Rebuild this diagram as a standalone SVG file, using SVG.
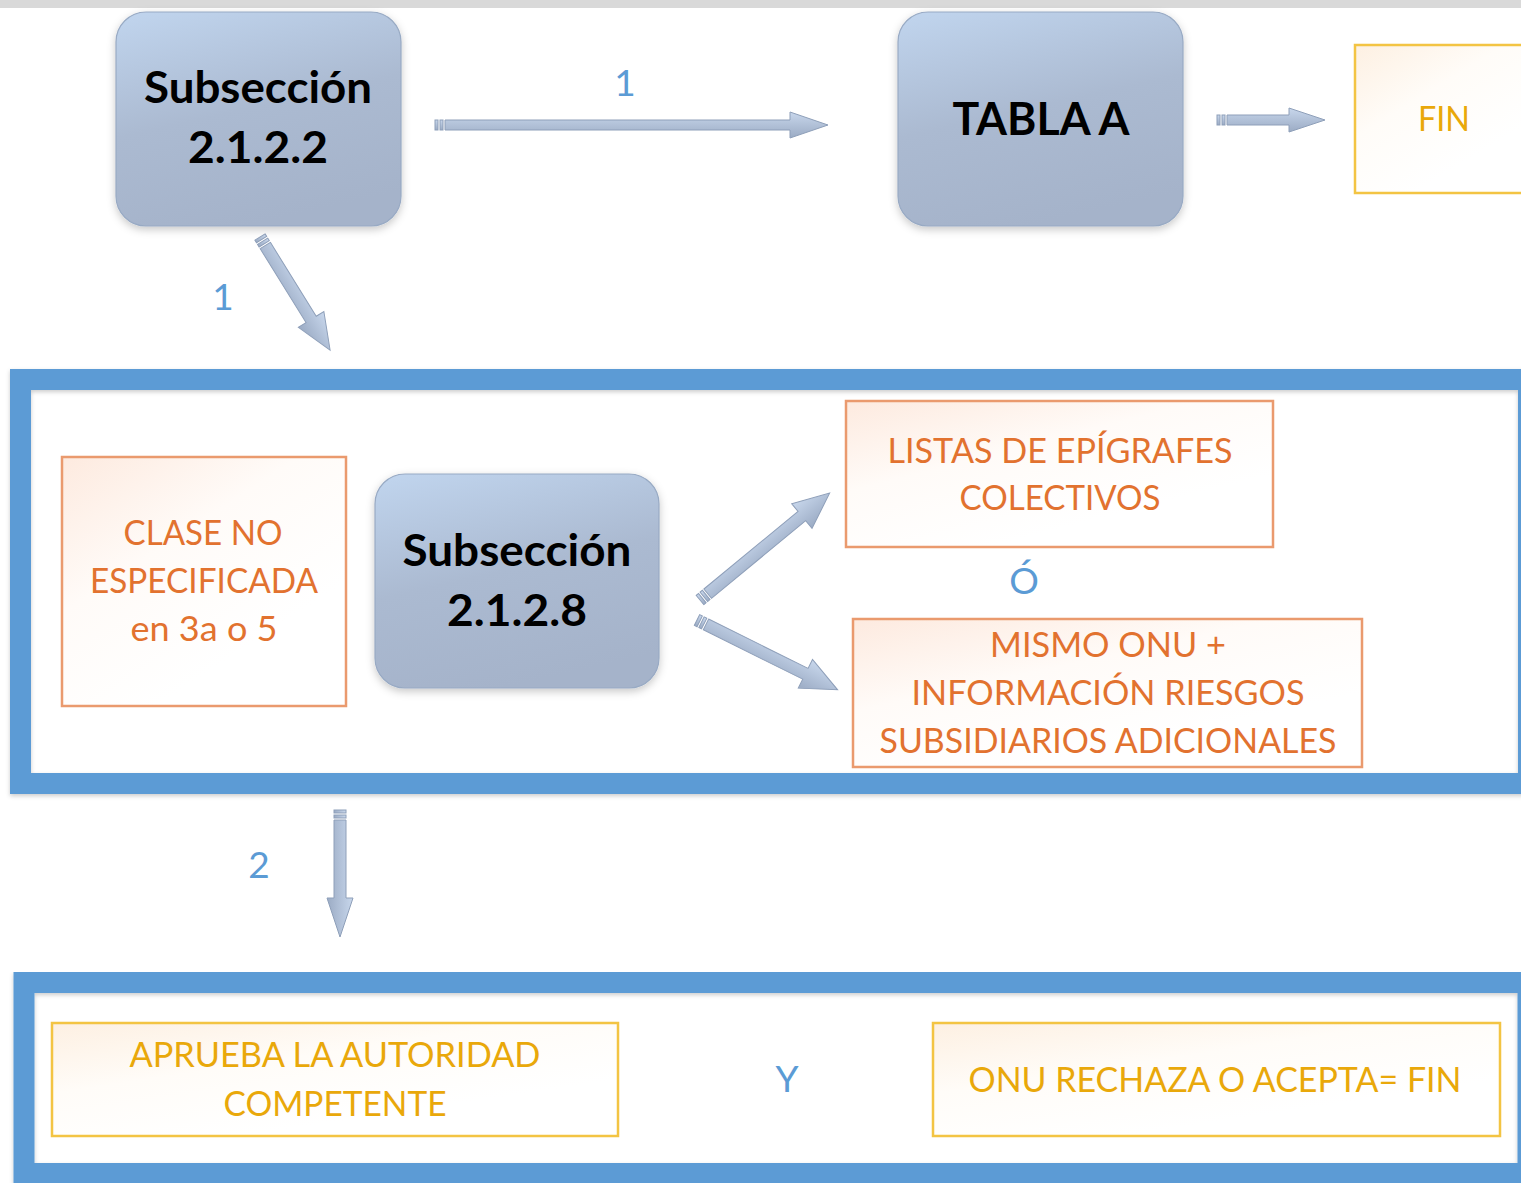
<svg xmlns="http://www.w3.org/2000/svg" width="1521" height="1183" viewBox="0 0 1521 1183">
<style>
.node{fill:url(#gNode);stroke:#98aac4;stroke-width:1.2;filter:url(#sh)}
.nt{font-family:Lato,"Open Sans","Liberation Sans",sans-serif;font-weight:bold;fill:#000;text-anchor:middle}
.obox{fill:url(#gOr);stroke:#ea9a6e;stroke-width:2.5}
.ot{font-family:Lato,"Open Sans","Liberation Sans",sans-serif;font-size:35px;fill:#e2722f;text-anchor:middle}
.ybox{fill:url(#gYe);stroke:#f3c443;stroke-width:2.5}
.yt{font-family:Lato,"Open Sans","Liberation Sans",sans-serif;font-size:35px;fill:#e9a80a;text-anchor:middle}
.lbl{font-family:Lato,"Open Sans","Liberation Sans",sans-serif;font-size:37px;fill:#5b9bd5;text-anchor:middle}
.frame{fill:none;stroke:#5b9bd5;stroke-width:21;filter:url(#shf)}
.arr{fill:url(#gArr);stroke:#8e9fb9;stroke-width:1}
</style>
<defs>
<linearGradient id="gNode" x1="0.15" y1="0" x2="0.45" y2="1">
<stop offset="0" stop-color="#bfd3ec"/><stop offset="0.5" stop-color="#abbad1"/><stop offset="1" stop-color="#a5b3ca"/>
</linearGradient>
<linearGradient id="gOr" x1="0" y1="0" x2="0.6" y2="0.8">
<stop offset="0" stop-color="#fdeadf"/><stop offset="0.5" stop-color="#fffbf8"/><stop offset="1" stop-color="#ffffff"/>
</linearGradient>
<linearGradient id="gYe" x1="0" y1="0" x2="0.6" y2="0.8">
<stop offset="0" stop-color="#fdf0e2"/><stop offset="0.5" stop-color="#fffcf8"/><stop offset="1" stop-color="#ffffff"/>
</linearGradient>
<linearGradient id="gArr" x1="0" y1="0" x2="0" y2="1">
<stop offset="0" stop-color="#c8d7ec"/><stop offset="1" stop-color="#9babc4"/>
</linearGradient>
<filter id="sh" x="-10%" y="-10%" width="120%" height="125%">
<feDropShadow dx="0" dy="3" stdDeviation="4" flood-color="#000" flood-opacity="0.22"/>
</filter>
<filter id="shf" x="-5%" y="-5%" width="110%" height="115%">
<feDropShadow dx="0" dy="2" stdDeviation="2" flood-color="#000" flood-opacity="0.2"/>
</filter>
</defs>
<rect x="0" y="0" width="1521" height="1183" fill="#ffffff"/>
<rect x="0" y="0" width="1521" height="8" fill="#d9d9d9"/>

<g id="container1"><rect class="frame" x="20.5" y="379.5" width="1508" height="404"/></g>
<g id="container2"><rect class="frame" x="24" y="982.5" width="1504" height="191"/></g>

<g id="connectors">
<g transform="translate(435,125)">
<rect class="arr" x="0" y="-5" width="3" height="10"/><rect class="arr" x="5" y="-5" width="3" height="10"/>
<path class="arr" d="M10,-5 H355 V-13 L393,0 L355,13 V5 H10 Z"/>
</g>
<g transform="translate(1217,120)">
<rect class="arr" x="0" y="-5" width="3" height="10"/><rect class="arr" x="5" y="-5" width="3" height="10"/>
<path class="arr" d="M10,-5 H72 V-12 L108,0 L72,12 V5 H10 Z"/>
</g>
<g transform="translate(260,237) rotate(58.2)">
<rect class="arr" x="0" y="-6" width="3" height="12"/><rect class="arr" x="5" y="-6" width="3" height="12"/>
<path class="arr" d="M10,-6 H97 V-15 L133,0 L97,15 V6 H10 Z"/>
</g>
<g transform="translate(700,600) rotate(-39.5)">
<rect class="arr" x="0" y="-6" width="3" height="12"/><rect class="arr" x="5" y="-6" width="3" height="12"/>
<path class="arr" d="M10,-6 H132 V-16 L168,0 L132,16 V6 H10 Z"/>
</g>
<g transform="translate(697,620) rotate(26.4)">
<rect class="arr" x="0" y="-6" width="3" height="12"/><rect class="arr" x="5" y="-6" width="3" height="12"/>
<path class="arr" d="M10,-6 H121 V-16 L157,0 L121,16 V6 H10 Z"/>
</g>
<g transform="translate(340,810) rotate(90)">
<rect class="arr" x="0" y="-6" width="3" height="12"/><rect class="arr" x="5" y="-6" width="3" height="12"/>
<path class="arr" d="M10,-6 H88 V-13 L127,0 L88,13 V6 H10 Z"/>
</g>
<text class="lbl" x="625" y="96">1</text>
<text class="lbl" x="223" y="310">1</text>
<text class="lbl" x="259" y="878">2</text>
</g>

<g id="sub2122">
<rect class="node" x="116" y="12" width="285" height="214" rx="30"/>
<text class="nt" x="258" y="103" font-size="43" textLength="228" lengthAdjust="spacingAndGlyphs">Subsección</text>
<text class="nt" x="258" y="163" font-size="43" textLength="140" lengthAdjust="spacingAndGlyphs">2.1.2.2</text>
</g>

<g id="tablaA">
<rect class="node" x="898" y="12" width="285" height="214" rx="30"/>
<text class="nt" x="1041" y="135" font-size="46" textLength="177" lengthAdjust="spacingAndGlyphs">TABLA A</text>
</g>

<g id="fin">
<rect class="ybox" x="1355" y="45" width="180" height="148"/>
<text class="yt" x="1444" y="131" textLength="52" lengthAdjust="spacingAndGlyphs">FIN</text>
</g>

<g id="clase">
<rect class="obox" x="62" y="457" width="284" height="249"/>
<text class="ot" x="203" y="545" textLength="159" lengthAdjust="spacingAndGlyphs">CLASE NO</text>
<text class="ot" x="204" y="593" textLength="228" lengthAdjust="spacingAndGlyphs">ESPECIFICADA</text>
<text class="ot" x="204" y="641" textLength="147" lengthAdjust="spacingAndGlyphs">en 3a o 5</text>
</g>

<g id="sub2128">
<rect class="node" x="375" y="474" width="284" height="214" rx="30"/>
<text class="nt" x="517" y="566" font-size="43" textLength="229" lengthAdjust="spacingAndGlyphs">Subsección</text>
<text class="nt" x="517" y="626" font-size="43" textLength="140" lengthAdjust="spacingAndGlyphs">2.1.2.8</text>
</g>

<g id="listas">
<rect class="obox" x="846" y="401" width="427" height="146"/>
<text class="ot" x="1060" y="463" textLength="345" lengthAdjust="spacingAndGlyphs">LISTAS DE EPÍGRAFES</text>
<text class="ot" x="1060" y="510" textLength="201" lengthAdjust="spacingAndGlyphs">COLECTIVOS</text>
</g>

<g id="o-label"><text class="lbl" x="1024" y="594" font-size="35">Ó</text></g>

<g id="mismo">
<rect class="obox" x="853" y="619" width="509" height="148"/>
<text class="ot" x="1108" y="657" textLength="236" lengthAdjust="spacingAndGlyphs">MISMO ONU +</text>
<text class="ot" x="1108" y="705" textLength="393" lengthAdjust="spacingAndGlyphs">INFORMACIÓN RIESGOS</text>
<text class="ot" x="1108" y="753" textLength="457" lengthAdjust="spacingAndGlyphs">SUBSIDIARIOS ADICIONALES</text>
</g>

<g id="aprueba">
<rect class="ybox" x="52" y="1023" width="566" height="113"/>
<text class="yt" x="335" y="1067" textLength="411" lengthAdjust="spacingAndGlyphs">APRUEBA LA AUTORIDAD</text>
<text class="yt" x="335" y="1116" textLength="223" lengthAdjust="spacingAndGlyphs">COMPETENTE</text>
</g>

<g id="y-label"><text class="lbl" x="787" y="1092" font-size="36">Y</text></g>

<g id="onu">
<rect class="ybox" x="933" y="1023" width="567" height="113"/>
<text class="yt" x="1215" y="1092" textLength="493" lengthAdjust="spacingAndGlyphs">ONU RECHAZA O ACEPTA= FIN</text>
</g>
</svg>
